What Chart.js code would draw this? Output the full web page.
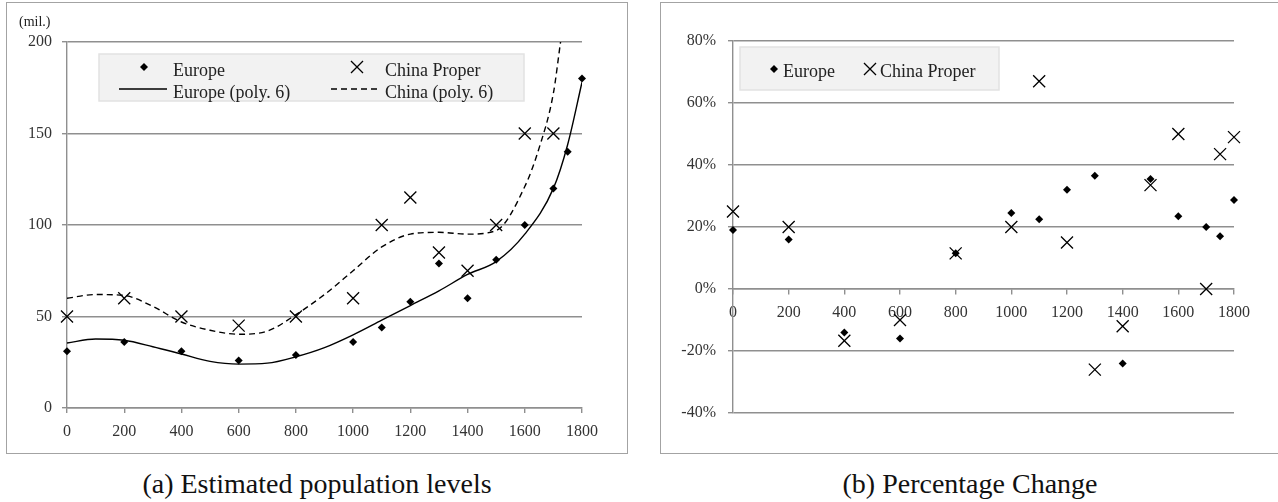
<!DOCTYPE html>
<html>
<head>
<meta charset="utf-8">
<script src="https://cdn.jsdelivr.net/npm/chart.js@4.4.0/dist/chart.umd.min.js"></script>
<style>
  body { margin: 0; background: #fff; overflow: hidden; width: 1278px; height: 502px; position: relative; font-family: 'Liberation Serif', serif; }
  .panel { position: absolute; border: 1.5px solid #a3a3a3; box-sizing: border-box; }
  canvas { position: absolute; top: 0; }
  .caption { position: absolute; top: 468px; font-size: 28px; line-height: 32px; text-align: center; color: #111; }
  .unit { position: absolute; left: 19px; top: 14px; font-size: 14px; color: #222; }
</style>
</head>
<body>
<div class="panel" style="left:6px; top:2px; width:622px; height:452px;"></div>
<div class="panel" style="left:660px; top:2px; width:660px; height:452px;"></div>
<canvas id="levels" width="640" height="460" style="left:0px;"></canvas>
<canvas id="changes" width="638" height="460" style="left:640px;"></canvas>
<div class="unit">(mil.)</div>
<div class="caption" style="left:0px; width:634px;">(a) Estimated population levels</div>
<div class="caption" style="left:660px; width:620px;">(b) Percentage Change</div>

<script>
// years with observations
const years = [0, 200, 400, 600, 800, 1000, 1100, 1200, 1300, 1400, 1500, 1600, 1700, 1750, 1800];
const chinaYears = [0, 200, 400, 600, 800, 1000, 1100, 1200, 1300, 1400, 1500, 1600, 1700];

// population levels (millions)
const europePop = [31, 36, 31, 26, 29, 36, 44, 58, 79, 60, 81, 100, 120, 140, 180];
const chinaPop = [50, 60, 50, 45, 50, 60, 100, 115, 85, 75, 100, 150, 150];

// trend lines
const europeTrendYears = [0, 100, 200, 300, 400, 500, 600, 700, 800, 900, 1000, 1100, 1200, 1300, 1400, 1500, 1600, 1700, 1750, 1800];
const europeTrend = [35.5, 37.7, 37, 33.5, 29.5, 25.5, 24, 24.5, 28, 33, 40, 48, 56, 64, 73, 80, 95, 120, 144, 178];
const chinaTrendYears = [0, 100, 200, 300, 400, 500, 600, 700, 800, 900, 1000, 1100, 1200, 1300, 1400, 1500, 1600, 1650, 1700, 1725];
const chinaTrend = [60, 62, 61.5, 55.5, 47, 42.5, 40.3, 42, 51, 62, 75, 88, 95, 96, 95, 97, 121, 142, 172, 200];

// percentage change from previous observation
const europeChange = [19, 16, -14, -16, 11.5, 24.5, 22.5, 32, 36.5, -24, 35.5, 23.5, 20, 17, 28.7];
const chinaChange = [25, 20, -16.7, -10, 11.5, 20, 67, 15, -26, -12, 33.5, 50, 0, 43.5, 49];

const xTicks = { min: 0, max: 1800, step: 200 };
const levelTicks = { min: 0, max: 200, step: 50 };
const changeTicks = { min: -40, max: 80, step: 20 };

const gridColor = '#8f8f8f';
const tickFont = { family: 'Liberation Serif', size: 16 };

function pairs(xs, ys) {
    return xs.map((x, i) => ({ x: x, y: ys[i] }));
}

function drawMarker(ctx, ds, x, y) {
    ctx.save();
    ctx.fillStyle = '#000';
    ctx.strokeStyle = '#000';
    const r = ds.pointRadius;
    ctx.beginPath();
    if (ds.pointStyle === 'rectRot') {
        ctx.moveTo(x - r, y); ctx.lineTo(x, y - r); ctx.lineTo(x + r, y); ctx.lineTo(x, y + r);
        ctx.closePath();
        ctx.fill();
    } else {
        const d = r * Math.SQRT1_2;
        ctx.lineWidth = ds.borderWidth;
        ctx.moveTo(x - d, y - d); ctx.lineTo(x + d, y + d);
        ctx.moveTo(x + d, y - d); ctx.lineTo(x - d, y + d);
        ctx.stroke();
    }
    ctx.restore();
}

// legend box drawn inside the plot, like the spreadsheet original
const boxLegend = {
    id: 'boxLegend',
    afterDatasetsDraw(chart, args, opts) {
        const ctx = chart.ctx;
        const b = opts.box;
        ctx.save();
        ctx.fillStyle = '#f2f2f2';
        ctx.fillRect(b[0], b[1], b[2], b[3]);
        ctx.strokeStyle = '#e2e2e2';
        ctx.lineWidth = 1.5;
        ctx.strokeRect(b[0], b[1], b[2], b[3]);
        ctx.font = opts.fontSize + 'px "Liberation Serif"';
        ctx.textBaseline = 'middle';
        opts.items.forEach(it => {
            const ds = chart.data.datasets[it.ds];
            if (ds.showLine) {
                ctx.save();
                ctx.strokeStyle = '#000';
                ctx.lineWidth = ds.borderWidth;
                ctx.setLineDash(ds.borderDash || []);
                ctx.beginPath();
                ctx.moveTo(it.mx - it.len / 2, it.my);
                ctx.lineTo(it.mx + it.len / 2, it.my);
                ctx.stroke();
                ctx.restore();
            } else {
                drawMarker(ctx, ds, it.mx, it.my);
            }
            ctx.fillStyle = '#222';
            ctx.fillText(ds.label, it.tx, it.ty);
        });
        ctx.restore();
    }
};

const plainNumber = v => String(v);

function xAxis(extra) {
    return Object.assign({
        type: 'linear', min: xTicks.min, max: xTicks.max,
        ticks: { stepSize: xTicks.step, font: tickFont, color: '#333', padding: 9, maxRotation: 0, callback: plainNumber },
        grid: { drawOnChartArea: false, color: gridColor, lineWidth: 1.4, tickLength: 5 },
        border: { display: true, color: gridColor, width: 1.4 }
    }, extra);
}

function yAxis(t, width, pad, fmt) {
    return {
        min: t.min, max: t.max,
        afterFit: s => { s.width = width; },
        ticks: { stepSize: t.step, font: tickFont, color: '#333', padding: pad, callback: fmt },
        grid: { color: gridColor, lineWidth: 1.4, tickLength: 5 },
        border: { display: true, color: gridColor, width: 1.4 }
    };
}

const europeDot = { pointStyle: 'rectRot', pointRadius: 4, borderWidth: 0, backgroundColor: '#000', borderColor: '#000', clip: false };
const chinaCross = { pointStyle: 'crossRot', pointRadius: 8.5, borderWidth: 1.3, backgroundColor: '#000', borderColor: '#000', clip: false };

new Chart(document.getElementById('levels'), {
    type: 'scatter',
    data: {
        datasets: [
            Object.assign({ label: 'Europe', data: pairs(years, europePop) }, europeDot),
            Object.assign({ label: 'China Proper', data: pairs(chinaYears, chinaPop) }, chinaCross),
            {
                label: 'Europe (poly. 6)', data: pairs(europeTrendYears, europeTrend),
                showLine: true, pointRadius: 0, borderColor: '#000', borderWidth: 1.4,
                cubicInterpolationMode: 'monotone'
            },
            {
                label: 'China (poly. 6)', data: pairs(chinaTrendYears, chinaTrend),
                showLine: true, pointRadius: 0, borderColor: '#000', borderWidth: 1.4,
                borderDash: [6, 4], cubicInterpolationMode: 'monotone', clip: 0
            }
        ]
    },
    options: {
        responsive: false,
        animation: false,
        devicePixelRatio: 1,
        layout: { padding: { top: 42, right: 58, bottom: 7, left: 0 } },
        plugins: {
            legend: { display: false },
            tooltip: { enabled: false },
            boxLegend: {
                box: [99, 54, 425, 47],
                fontSize: 18,
                items: [
                    { ds: 0, mx: 144, my: 67, tx: 173, ty: 71 },
                    { ds: 1, mx: 357, my: 67, tx: 385, ty: 71 },
                    { ds: 2, mx: 143, my: 89, len: 48, tx: 173, ty: 93 },
                    { ds: 3, mx: 354, my: 89, len: 46, tx: 385, ty: 93 }
                ]
            }
        },
        scales: {
            x: xAxis({ afterFit: s => { s.height = 45; } }),
            y: yAxis(levelTicks, 67, 10, plainNumber)
        }
    },
    plugins: [boxLegend]
});

new Chart(document.getElementById('changes'), {
    type: 'scatter',
    data: {
        datasets: [
            Object.assign({ label: 'Europe', data: pairs(years, europeChange) }, europeDot),
            Object.assign({ label: 'China Proper', data: pairs(years, chinaChange) }, chinaCross)
        ]
    },
    options: {
        responsive: false,
        animation: false,
        devicePixelRatio: 1,
        layout: { padding: { top: 41, right: 44, bottom: 47, left: 0 } },
        plugins: {
            legend: { display: false },
            tooltip: { enabled: false },
            boxLegend: {
                box: [100, 47, 259, 43],
                fontSize: 18,
                items: [
                    { ds: 0, mx: 134, my: 69, tx: 143, ty: 72 },
                    { ds: 1, mx: 230, my: 69, tx: 240, ty: 72 }
                ]
            }
        },
        scales: {
            x: xAxis({ position: { y: 0 } }),
            y: yAxis(changeTicks, 93, 12, v => v + '%')
        }
    },
    plugins: [boxLegend]
});
</script>
</body>
</html>
